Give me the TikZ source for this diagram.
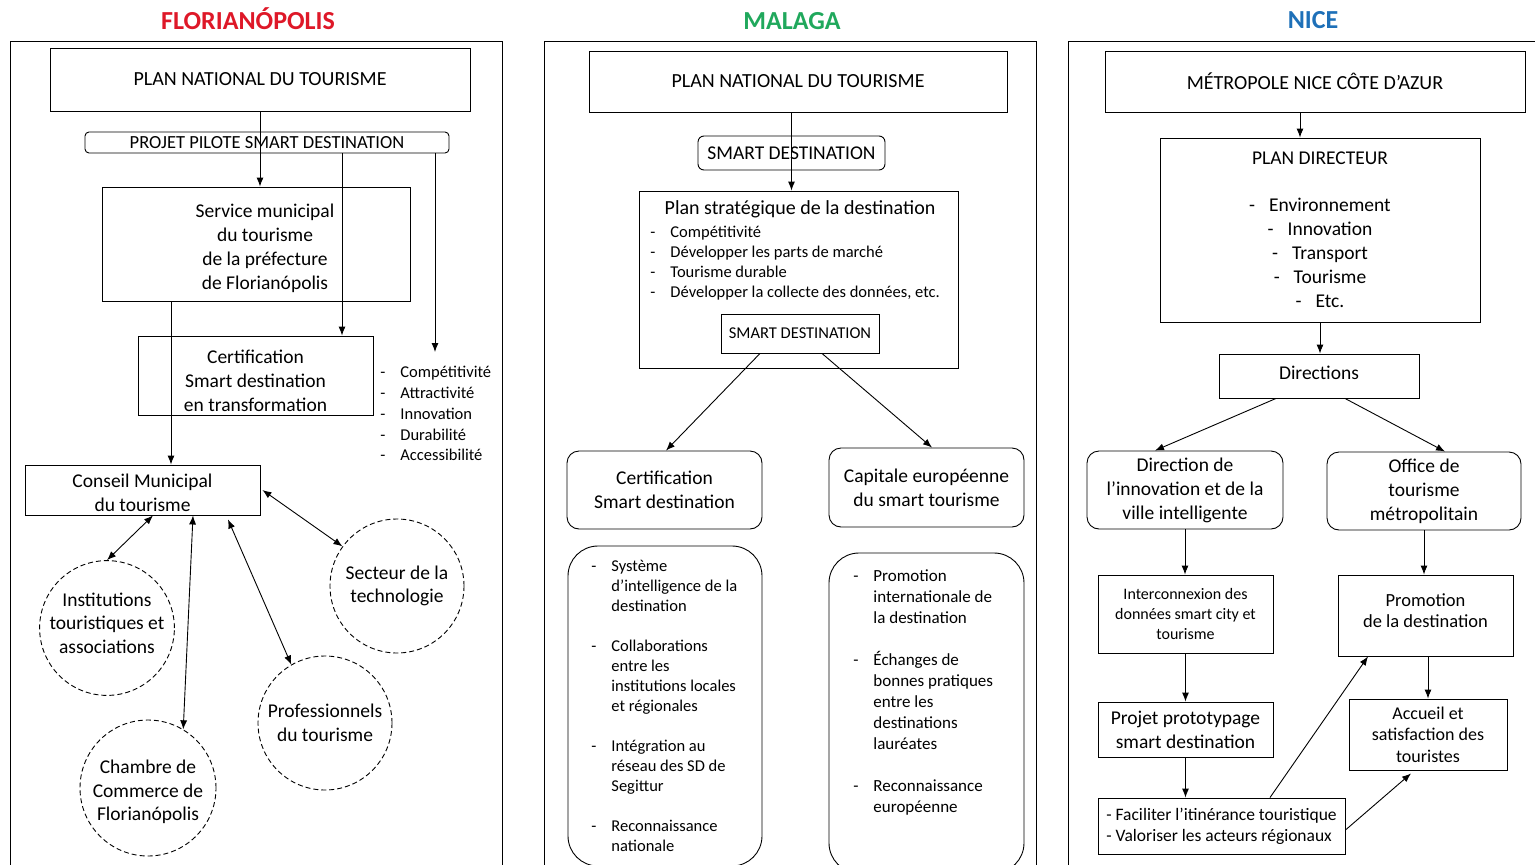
\documentclass[tikz,border=0pt]{standalone}
\usepackage{fontspec}
\setmainfont{Carlito}
\usetikzlibrary{arrows.meta}
\definecolor{floRed}{RGB}{222,24,40}
\definecolor{malGreen}{RGB}{32,168,92}
\definecolor{niceBlue}{RGB}{30,112,184}
\newcommand{\dashitem}[1]{\makebox[20pt][l]{-}#1}
\newcommand{\dashcont}[1]{\hspace*{20pt}#1}

\begin{document}
\begin{tikzpicture}[x=1pt, y=-1pt, line width=0.9pt,
box/.style={draw, align=center, inner sep=2pt, font=\fontsize{19.5}{24}\selectfont},
rbox/.style={box, rounded corners=12pt},
small/.style={font=\fontsize{16.5}{20.75}\selectfont},
items/.style={align=left, anchor=north west, inner sep=0pt, font=\fontsize{16.5}{20}\selectfont},
bubble/.style={draw, dash pattern=on 5pt off 3pt, circle, align=center, minimum size=134pt, inner sep=0pt, font=\fontsize{19.5}{23.5}\selectfont},
city/.style={font=\bfseries\fontsize{26}{30}\selectfont},
arrow/.style={-{Latex[length=9pt,width=7pt]}},
twoway/.style={{Latex[length=9pt,width=7pt]}-{Latex[length=9pt,width=7pt]}}
]
\useasboundingbox (0,0) rectangle (1535,865);

\draw (10,41) rectangle (502,868);
\draw (544,41) rectangle (1036,868);
\draw (1068,41) rectangle (1545,868);

\node[city, text=floRed] (titleF) at (248,19) {FLORIANÓPOLIS};
\node[box, minimum width=420pt, minimum height=63pt, font=\fontsize{20}{24}\selectfont] (pntF) at (260,79.5) {PLAN NATIONAL DU TOURISME};
\node[box, rounded corners=4pt, minimum width=364pt, minimum height=21pt, inner sep=0pt, font=\fontsize{18.5}{20}\selectfont] (pilotF) at (267,142.5) {PROJET PILOTE SMART DESTINATION};
\node[box, minimum width=308pt, minimum height=114pt] (servF) at (256,244) {\rule{0pt}{22pt}\hspace*{18pt}Service municipal\\\hspace*{18pt}du tourisme\\\hspace*{18pt}de la préfecture\\\hspace*{18pt}de Florianópolis};
\node[box, minimum width=235pt, minimum height=79pt] (certF) at (255.5,375.5) {\rule{0pt}{23.5pt}Certification\\Smart destination\\en transformation};
\node[small, align=left, anchor=north west, inner sep=0pt] (listF) at (380,366) {\dashitem{Compétitivité}\\\dashitem{Attractivité}\\\dashitem{Innovation}\\\dashitem{Durabilité}\\\dashitem{Accessibilité}};
\node[box, minimum width=235pt, minimum height=50pt] (consF) at (142.5,490) {\rule{0pt}{19pt}Conseil Municipal\\du tourisme};
\node[bubble] (instF) at (107,628) {Institutions\\touristiques et\\associations\rule[-10pt]{0pt}{0pt}};
\node[bubble] (techF) at (397,586) {Secteur de la\\technologie};
\node[bubble] (proF) at (325,723) {Professionnels\\du tourisme};
\node[bubble, minimum size=136pt] (chamF) at (148,788) {\rule{0pt}{21.5pt}Chambre de\\Commerce de\\Florianópolis};

\coordinate (pilotA) at ([xshift=75pt]pilotF.south);
\coordinate (servA) at ([xshift=-85pt]servF.south);
\coordinate (listtip) at (435,352);
\draw[arrow] (pntF.south) -- (pntF.south |- servF.north);
\draw[arrow] (pilotA) -- (pilotA |- certF.north);
\draw[arrow] ([xshift=168pt]pilotF.south) -- (listtip);
\draw[arrow] (servA) -- (servA |- consF.north);
\draw[twoway] ([xshift=10.5pt]consF.south) -- (instF.north);
\draw[twoway] ([xshift=50.5pt]consF.south) -- (chamF.59);
\draw[twoway] ([xshift=85.5pt,yshift=-4pt]consF.south) -- (proF.120);
\draw[twoway] ([xshift=2pt]consF.east) -- (techF.144);

\node[city, text=malGreen] (titleM) at (792,21) {MALAGA};
\node[box, minimum width=418pt, minimum height=61pt, font=\fontsize{20}{24}\selectfont] (pntM) at (798,81.5) {PLAN NATIONAL DU TOURISME};
\node[box, rounded corners=6pt, minimum width=187pt, minimum height=34pt] (smartM) at (791.5,153) {SMART DESTINATION};
\node[box, minimum width=319pt, minimum height=177pt] (stratM) at (798.5,279.5) {};
\node[font=\fontsize{20}{24}\selectfont] (stratT) at (800,209) {Plan stratégique de la destination};
\node[items] (stratL) at (650,226) {\dashitem{Compétitivité}\\\dashitem{Développer les parts de marché}\\\dashitem{Tourisme durable}\\\dashitem{Développer la collecte des données, etc.}};
\node[box, minimum width=158pt, minimum height=39pt, font=\fontsize{16.5}{18}\selectfont] (sdM) at (800,333.5) {SMART DESTINATION};
\node[rbox, minimum width=195pt, minimum height=78pt] (certM) at (664.5,490) {Certification\\Smart destination};
\node[rbox, minimum width=195pt, minimum height=79pt] (capM) at (926.5,487.5) {Capitale européenne\\du smart tourisme};
\node[box, rounded corners=30pt, minimum width=194pt, minimum height=320pt] (listLM) at (665,706) {};
\node[box, rounded corners=30pt, minimum width=195pt, minimum height=320pt] (listRM) at (926.5,713) {};
\node[items] (listLT) at (591,560) {\dashitem{Système}\\\dashcont{d’intelligence de la}\\\dashcont{destination}\\[20pt]\dashitem{Collaborations}\\\dashcont{entre les}\\\dashcont{institutions locales}\\\dashcont{et régionales}\\[20pt]\dashitem{Intégration au}\\\dashcont{réseau des SD de}\\\dashcont{Segittur}\\[20pt]\dashitem{Reconnaissance}\\\dashcont{nationale}};
\node[items, font=\fontsize{17}{21}\selectfont] (listRT) at (853,569) {\dashitem{Promotion}\\\dashcont{internationale de}\\\dashcont{la destination}\\[21pt]\dashitem{Échanges de}\\\dashcont{bonnes pratiques}\\\dashcont{entre les}\\\dashcont{destinations}\\\dashcont{lauréates}\\[21pt]\dashitem{Reconnaissance}\\\dashcont{européenne}};

\draw[arrow] (smartM.center |- pntM.south) -- (smartM.center |- stratM.north);
\draw[arrow] ([xshift=-40pt]sdM.south) -- ([xshift=1.5pt]certM.north);
\draw[arrow] ([xshift=22pt]sdM.south) -- ([xshift=5.5pt]capM.north);

\node[city, text=niceBlue] (titleN) at (1313,20) {NICE};
\node[box, minimum width=420pt, minimum height=61pt, font=\fontsize{20}{24}\selectfont] (metN) at (1315,81.5) {MÉTROPOLE NICE CÔTE D’AZUR};
\node[box, minimum width=320pt, minimum height=184pt] (planN) at (1320,230) {PLAN DIRECTEUR\\[23pt]-\hspace{14pt}Environnement\\-\hspace{14pt}Innovation\\-\hspace{14pt}Transport\\-\hspace{14pt}Tourisme\\-\hspace{14pt}Etc.};
\node[box, minimum width=200pt, minimum height=44pt] (dirsN) at (1319,376) {Directions\rule[-6pt]{0pt}{0pt}};
\node[rbox, minimum width=196pt, minimum height=78pt] (innoN) at (1185,490) {Direction de\\l’innovation et de la\\ville intelligente};
\node[rbox, minimum width=194pt, minimum height=78pt] (offN) at (1424,491) {Office de\\tourisme\\métropolitain};
\node[box, minimum width=175pt, minimum height=78pt, font=\fontsize{16}{20}\selectfont] (interN) at (1185.5,614) {Interconnexion des\\données smart city et\\tourisme};
\node[box, minimum width=175pt, minimum height=81pt, font=\fontsize{18.5}{21}\selectfont] (promN) at (1425.5,615.5) {Promotion\\de la destination\rule[-10pt]{0pt}{0pt}};
\node[box, minimum width=175pt, minimum height=55pt] (projN) at (1185.5,729.5) {Projet prototypage\\smart destination};
\node[box, minimum width=158pt, minimum height=71pt, font=\fontsize{18}{21.5}\selectfont] (accN) at (1428,734.5) {Accueil et\\satisfaction des\\touristes};
\node[box, align=left, minimum width=247pt, minimum height=56pt, font=\fontsize{17.5}{21}\selectfont] (facN) at (1221.5,826) {- Faciliter l’itinérance touristique\\- Valoriser les acteurs régionaux};

\coordinate (metA) at ([xshift=-15pt]metN.south);
\coordinate (promA) at ([xshift=2.5pt]promN.south);
\draw[arrow] (metA) -- (metA |- planN.north);
\draw[arrow] (planN.south) -- (planN.south |- dirsN.north);
\draw[arrow] ([xshift=-43pt]dirsN.south) -- ([xshift=-30pt]innoN.north);
\draw[arrow] ([xshift=26pt]dirsN.south) -- ([xshift=21pt]offN.north);
\draw[arrow] (innoN.south) -- (innoN.south |- interN.north);
\draw[arrow] (offN.south) -- (offN.south |- promN.north);
\draw[arrow] (interN.south) -- (interN.south |- projN.north);
\draw[arrow] (promA) -- (promA |- accN.north);
\draw[arrow] (projN.south) -- (projN.south |- facN.north);
\draw[arrow] ([xshift=48.5pt]facN.north) -- ([xshift=-57.5pt]promN.south);
\draw[arrow] ([yshift=-4pt]facN.east) -- ([xshift=-17pt,yshift=-3pt]accN.south);
\end{tikzpicture}
\end{document}
